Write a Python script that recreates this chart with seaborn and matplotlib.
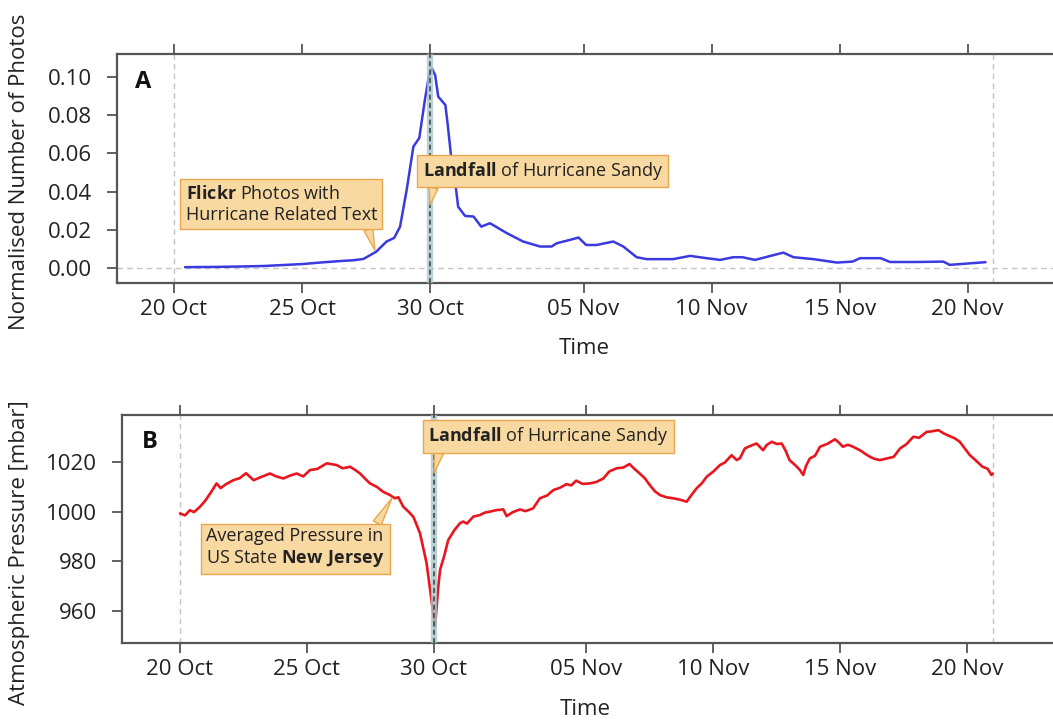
import pandas as pd
import matplotlib
matplotlib.use("Agg")
import matplotlib.pyplot as plt
import matplotlib.dates as mdates
from matplotlib.ticker import FixedLocator
import seaborn as sns

# Data (days since 20 Oct 2012)
start = pd.Timestamp("2012-10-20")
landfall_day = 10.0
ref_days = [0.0, 32.0]
tick_days = [0, 5, 10, 16, 21, 26, 31]

photo_days = [0.43, 1.5, 2.45, 3.5, 4.4, 5.0, 5.7, 6.5, 7.0, 7.4, 7.9, 8.3, 8.6,
              8.83, 9.09, 9.35, 9.58, 9.8, 9.95, 10.07, 10.2, 10.32, 10.6, 10.7,
              10.85, 11.0, 11.1, 11.37, 11.7, 12.0, 12.34, 13.0, 13.64, 14.3,
              14.75, 14.95, 15.47, 15.8, 16.1, 16.5, 17.16, 17.55, 18.07, 18.46,
              19.5, 20.16, 20.8, 21.33, 21.85, 22.2, 22.7, 23.3, 23.8, 24.2,
              24.97, 25.9, 26.5, 26.8, 27.6, 27.97, 29.0, 30.05, 30.3, 30.8, 31.7]
photo_vals = [0.0004, 0.0005, 0.0007, 0.0010, 0.0016, 0.0020, 0.0028, 0.0036,
              0.0040, 0.0047, 0.0085, 0.0138, 0.0157, 0.0216, 0.041, 0.0635,
              0.068, 0.088, 0.100, 0.1045, 0.101, 0.0897, 0.0853, 0.074, 0.055,
              0.043, 0.032, 0.0272, 0.0269, 0.0216, 0.0234, 0.0182, 0.0138,
              0.0112, 0.0112, 0.0129, 0.0147, 0.0159, 0.012, 0.012, 0.0138,
              0.0112, 0.0056, 0.0046, 0.0046, 0.0063, 0.0051, 0.0042, 0.0056,
              0.0056, 0.0042, 0.0063, 0.008, 0.0056, 0.0046, 0.0028, 0.0033,
              0.0051, 0.0051, 0.0031, 0.0031, 0.0033, 0.0016, 0.0021, 0.0030]

pressure_days = [0.0, 0.2, 0.39, 0.55, 0.79, 1.0, 1.2, 1.44, 1.6, 1.8, 2.1, 2.35,
                 2.6, 2.9, 3.2, 3.54, 3.8, 4.07, 4.35, 4.6, 4.85, 5.12, 5.4, 5.78,
                 5.95, 6.17, 6.4, 6.7, 6.9, 7.09, 7.3, 7.48, 7.75, 8.0, 8.25, 8.46,
                 8.6, 8.79, 9.0, 9.19, 9.45, 9.71, 9.9, 10.04, 10.17, 10.24, 10.4,
                 10.56, 10.8, 11.02, 11.15, 11.3, 11.55, 11.8, 12.0, 12.2, 12.45,
                 12.73, 12.86, 13.1, 13.39, 13.6, 13.9, 14.17, 14.45, 14.7, 14.95,
                 15.22, 15.4, 15.6, 15.85, 16.14, 16.4, 16.67, 16.9, 17.19, 17.45,
                 17.7, 17.9, 18.1, 18.3, 18.5, 18.7, 18.9, 19.15, 19.42, 19.7,
                 19.95, 20.1, 20.34, 20.55, 20.74, 21.0, 21.26, 21.45, 21.72,
                 21.92, 22.05, 22.24, 22.45, 22.7, 22.96, 23.1, 23.3, 23.5, 23.69,
                 23.85, 24.0, 24.25, 24.4, 24.54, 24.65, 24.8, 25.0, 25.2, 25.5,
                 25.79, 25.95, 26.1, 26.3, 26.5, 26.8, 27.0, 27.17, 27.35, 27.56,
                 27.8, 28.1, 28.35, 28.6, 28.87, 29.1, 29.4, 29.6, 29.86, 30.1,
                 30.3, 30.5, 30.7, 30.9, 31.1, 31.35, 31.6, 31.8, 31.95, 32.0]
pressure_vals = [999.3, 998.5, 1000.6, 999.8, 1002, 1004.5, 1007.5, 1011.4, 1009.5,
                 1011, 1012.7, 1013.5, 1015.5, 1012.7, 1014, 1015.4, 1014.2,
                 1013.4, 1014.6, 1015.4, 1014.2, 1016.8, 1017.2, 1019.5, 1019.2,
                 1018.8, 1017.5, 1018.1, 1016.8, 1015.4, 1013.2, 1011.4, 1010,
                 1008, 1006.8, 1005.4, 1005.8, 1002, 1000, 997.9, 991.3, 979.2,
                 964.4, 953.6, 969.7, 976.5, 982, 988.5, 992.5, 995.3, 996, 995.2,
                 998, 998.6, 999.6, 1000, 1000.6, 1000.9, 998.2, 999.8, 1000.9,
                 1000.2, 1001.3, 1005.4, 1006.5, 1008.7, 1009.6, 1011.1, 1010.6,
                 1012.5, 1011.2, 1011.4, 1012, 1013.4, 1016.2, 1017.5, 1017.8,
                 1019.2, 1017.2, 1015.4, 1013.5, 1010.7, 1008.2, 1006.7, 1005.8,
                 1005.4, 1004.8, 1004, 1006.2, 1009.4, 1011.5, 1014.1, 1016.2,
                 1018.8, 1019.8, 1022.8, 1020.8, 1021.6, 1025.5, 1026.5, 1027.5,
                 1024.8, 1026.9, 1028.2, 1027.3, 1027.5, 1024.5, 1020.8, 1018.5,
                 1016.9, 1014.8, 1018.5, 1021.5, 1022.5, 1026.2, 1027.4, 1029.2,
                 1027.8, 1026.2, 1027, 1026.2, 1024.6, 1023.2, 1022.1, 1021.3,
                 1020.8, 1021.4, 1022.1, 1025.5, 1027.2, 1030.2, 1029.8, 1032.2,
                 1032.4, 1032.9, 1031.4, 1030.5, 1029.6, 1028.2, 1025.5, 1022.8,
                 1020.5, 1018.1, 1017.3, 1014.8, 1015.4]


def to_time(days):
    return start + pd.to_timedelta(days, unit="D")


sns.set_theme(style="white")
plt.rcParams["font.family"] = ["Open Sans", "DejaVu Sans"]
plt.rcParams["mathtext.fontset"] = "custom"
plt.rcParams["mathtext.rm"] = "Open Sans"
plt.rcParams["mathtext.bf"] = "Open Sans:bold"

W, H = 1053, 723
fig = plt.figure(figsize=(W / 100, H / 100), dpi=100)
ax_a = fig.add_axes([117 / W, 1 - 283 / H, (1058 - 117) / W, 229 / H])
ax_b = fig.add_axes([122 / W, 1 - 643 / H, (1058 - 122) / W, 228 / H])

box_fc, box_ec = "#f8d9a2", "#eaa64c"
spine_col = "#555555"

df_a = pd.DataFrame({"time": to_time(photo_days), "value": photo_vals})
df_b = pd.DataFrame({"time": to_time(pressure_days), "value": pressure_vals})

sns.lineplot(data=df_a, x="time", y="value", ax=ax_a, color="#3a3ade", lw=1.8)
sns.lineplot(data=df_b, x="time", y="value", ax=ax_b, color="#e8161e", lw=1.9)

# reference lines
for ax in (ax_a, ax_b):
    for d in ref_days:
        ax.axvline(to_time(d), color="#c4c4c4", lw=1, dashes=(4, 3), zorder=0)
    ax.axvline(to_time(landfall_day), color="#a9c6cc", lw=4.5, alpha=0.8, zorder=3)
    ax.axvline(to_time(landfall_day), color="#3d4b4b", lw=1.2, dashes=(3, 2), zorder=3)
ax_a.axhline(0, color="#c4c4c4", lw=1, dashes=(4, 3), zorder=0)

# axes styling
ax_a.set_xlim(to_time(-2.227), to_time(34.53))
ax_b.set_xlim(to_time(-2.283), to_time(34.57))
ax_a.set_ylim(-0.0079, 0.112)
ax_b.set_ylim(947, 1039)
ax_a.set_yticks([0.0, 0.02, 0.04, 0.06, 0.08, 0.10])
ax_a.set_yticklabels([f"{v:.2f}" for v in [0.0, 0.02, 0.04, 0.06, 0.08, 0.10]])
ax_b.set_yticks([960, 980, 1000, 1020])

for ax in (ax_a, ax_b):
    ax.xaxis.set_major_locator(FixedLocator(mdates.date2num(to_time(tick_days))))
    ax.xaxis.set_major_formatter(mdates.DateFormatter("%d %b"))
    for s in ["left", "top", "bottom"]:
        ax.spines[s].set_color(spine_col)
        ax.spines[s].set_linewidth(1.6)
    ax.spines["right"].set_visible(False)
    ax.tick_params(axis="x", top=True, bottom=True, direction="out", length=7.5,
                   width=1.3, color=spine_col, labelsize=16, pad=4, labelcolor="#222222")
    ax.tick_params(axis="y", left=True, direction="out", length=7, width=1.3,
                   color=spine_col, labelsize=16, pad=11, labelcolor="#222222")
    ax.set_xlabel("Time", fontsize=16, color="#222222")
    ax.grid(False)

ax_a.set_ylabel("Normalised Number of Photos", fontsize=16, color="#222222")
ax_b.set_ylabel("Atmospheric Pressure [mbar]", fontsize=16, color="#222222")
ax_a.yaxis.set_label_coords((30 - 117) / 941, 0.485)
ax_b.yaxis.set_label_coords((30 - 122) / 936, 0.395)
ax_a.xaxis.set_label_coords(0.497, -0.24)
ax_b.xaxis.set_label_coords(0.495, -0.246)

ax_a.text(0.019, 0.852, "A", transform=ax_a.transAxes, fontsize=17,
          fontweight="bold", va="baseline", color="#111111")
ax_b.text(0.021, 0.855, "B", transform=ax_b.transAxes, fontsize=17,
          fontweight="bold", va="baseline", color="#111111")

# callouts
bbox = dict(boxstyle="square,pad=0.3", fc=box_fc, ec=box_ec, lw=1)


def callout(ax, text, xy, xytext, va, relpos):
    ax.annotate(text, xy=xy, xytext=xytext, ha="left", va=va, fontsize=13,
                color="#222222", bbox=bbox, zorder=5,
                arrowprops=dict(arrowstyle="wedge,tail_width=0.5", fc=box_fc,
                                ec=box_ec, lw=1, relpos=relpos,
                                shrinkA=0, shrinkB=0))


callout(ax_a, r"$\bf{Flickr}$ Photos with" + "\n" + "Hurricane Related Text",
        (to_time(7.85), 0.0092), (to_time(0.45), 0.0435), "top", (0.945, 0))
callout(ax_a, r"$\bf{Landfall}$ of Hurricane Sandy",
        (to_time(landfall_day), 0.033), (to_time(9.72), 0.045), "bottom", (0.05, 0))
callout(ax_b, r"$\bf{Landfall}$ of Hurricane Sandy",
        (to_time(landfall_day), 1015.6), (to_time(9.78), 1026.0), "bottom", (0.05, 0))
callout(ax_b, "Averaged Pressure in" + "\n" + r"US State $\bf{New\ Jersey}$",
        (to_time(8.35), 1005.5), (to_time(1.04), 993.8), "top", (0.945, 1))

fig.savefig("out.png", dpi=100)
